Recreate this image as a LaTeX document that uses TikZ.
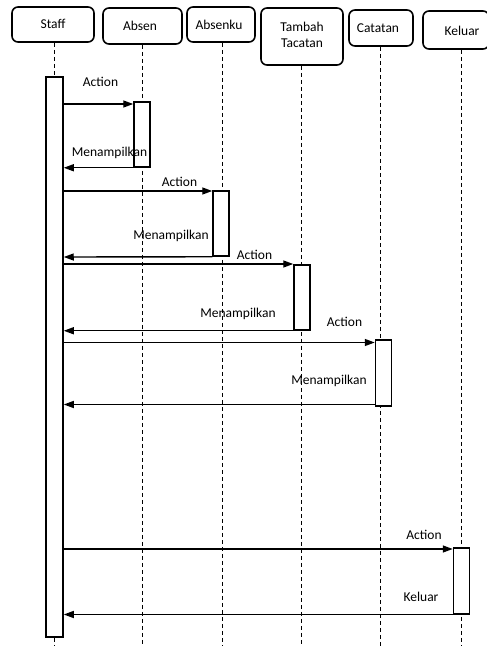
\documentclass[tikz,border=0pt]{standalone}
\usepackage{fontspec}
\setmainfont{Carlito}
\usetikzlibrary{arrows.meta}
\begin{document}
\begin{tikzpicture}[x=1pt,y=-1pt,
  font=\fontsize{13.5}{16}\selectfont,
  hdr/.style={draw, line width=1.6pt, rounded corners=6pt, inner sep=0pt, align=center},
  life/.style={line width=1pt, dash pattern=on 4pt off 3pt},
  act/.style={draw, fill=white, line width=1.5pt, inner sep=0pt, minimum width=16pt},
  msg/.style={line width=1.4pt, -{Triangle[length=10pt,width=7pt]}},
  lbl/.style={inner sep=0pt}]
\useasboundingbox (0,0) rectangle (487,646);
% headers (boxes)
\node[hdr, minimum width=82pt, minimum height=35pt] (hstaff) at (53,24.5) {};
\node[hdr, minimum width=79pt, minimum height=36pt] (habsen) at (142.5,26) {};
\node[hdr, minimum width=68pt, minimum height=35pt] (habsenku) at (221,24.5) {};
\node[hdr, minimum width=82pt, minimum height=57pt] (htambah) at (302,36.5) {};
\node[hdr, minimum width=64pt, minimum height=36pt] (hcatatan) at (381,28) {};
\node[hdr, minimum width=66pt, minimum height=38pt] (hkeluar) at (456,30) {};
% header texts
\node[lbl] (tstaff) at (53,24) {Staff};
\node[lbl] (tabsen) at (140,26) {Absen};
\node[lbl] (tabsenku) at (219,25) {Absenku};
\node[lbl] (ttambah1) at (302,27) {Tambah};
\node[lbl] (ttambah2) at (302,43) {Tacatan};
\node[lbl] (tcatatan) at (378,28) {Catatan};
\node[lbl] (tkeluar) at (462,31) {Keluar};
% lifeline ends
\coordinate (estaff) at (54,646);
\coordinate (eabsen) at (142,646);
\coordinate (eabsenku) at (222,646);
\coordinate (etambah) at (301,646);
\coordinate (ecatatan) at (380,646);
\coordinate (ekeluar) at (461,646);
\draw[life] (hstaff.south -| estaff) -- (estaff);
\draw[life] (habsen.south -| eabsen) -- (eabsen);
\draw[life] (habsenku.south -| eabsenku) -- (eabsenku);
\draw[life] (htambah.south -| etambah) -- (etambah);
\draw[life] (hcatatan.south -| ecatatan) -- (ecatatan);
\draw[life] (hkeluar.south -| ekeluar) -- (ekeluar);
% activations
\node[act, minimum width=17pt, minimum height=560pt] (sact) at (54.5,357) {};
\node[act, minimum height=65pt] (a1) at (142,134.5) {};
\node[act, minimum height=65pt] (a2) at (221,223.5) {};
\node[act, minimum height=65pt] (a3) at (302,297.5) {};
\node[act, minimum height=66pt] (a4) at (383.5,373) {};
\node[act, minimum height=66pt] (a5) at (461.5,581) {};
% messages
\draw[msg] (sact.east |- 0,104) -- (a1.west |- 0,104);
\draw[msg] (a1.south west) -- (sact.east |- a1.south);
\draw[msg] (sact.east |- 0,191) -- (a2.west |- 0,191);
\draw[msg] (a2.south west) -- (sact.east |- 0,257);
\draw[msg] (sact.east |- 0,264) -- (a3.west |- 0,264);
\draw[msg] (a3.south west) -- (sact.east |- a3.south);
\draw[msg] (sact.east |- 0,342.5) -- (a4.west |- 0,342.5);
\draw[msg] (a4.south west |- 0,404.5) -- (sact.east |- 0,404.5);
\draw[msg] (sact.east |- 0,549) -- (a5.west |- 0,549);
\draw[msg] (a5.south west |- 0,614.5) -- (sact.east |- 0,614.5);
% labels
\node[lbl] (l1) at (100.5,82) {Action};
\node[lbl] (l2) at (109.5,153) {Menampilkan};
\node[lbl] (l3) at (179.5,182) {Action};
\node[lbl] (l4) at (171,235.5) {Menampilkan};
\node[lbl] (l5) at (254.5,255) {Action};
\node[lbl] (l6) at (238,314) {Menampilkan};
\node[lbl] (l7) at (344.5,322) {Action};
\node[lbl] (l8) at (329,381) {Menampilkan};
\node[lbl] (l9) at (424,535) {Action};
\node[lbl] (l10) at (421,596.5) {Keluar};
\end{tikzpicture}
\end{document}
